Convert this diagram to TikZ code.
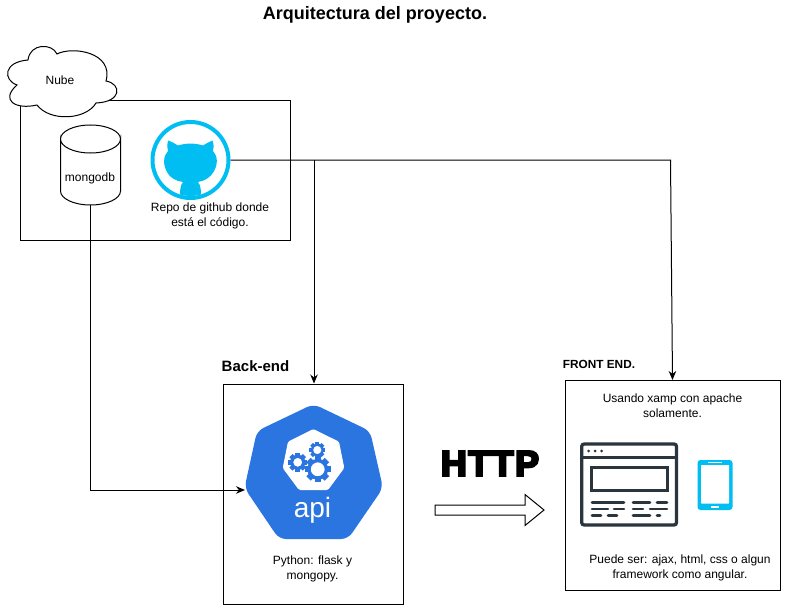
\documentclass[tikz,border=0pt]{standalone}
\usepackage{fontspec}
\setmainfont{Liberation Sans}
\newfontfamily\httpfont[LetterSpace=4]{Liberation Sans}
\usetikzlibrary{arrows.meta}
\definecolor{kblue}{HTML}{2A75E0}
\definecolor{ghblue}{HTML}{00BEF2}
\definecolor{dark}{HTML}{2A353D}
\tikzset{
  x=1pt,y=-1pt,
  box/.style={draw=black,line width=1pt,fill=white},
  lbl/.style={font=\fontsize{12}{15}\selectfont,align=center,inner sep=0pt},
  head/.style={font=\fontsize{15}{17}\selectfont\bfseries,inner sep=0pt},
  conn/.style={draw=black,line width=1pt,-{Stealth[length=9pt,width=7.5pt]}},
  plain/.style={draw=black,line width=1pt},
  wline/.style={dark,line width=2.6pt,line cap=round},
}
\newcommand{\gearshape}[4]{% x,y,radius,hole
  \foreach \a in {0,45,...,315}{
    \fill[kblue,rotate around={\a:(#1,#2)}] (#1-#3*0.24,#2-#3*0.7) rectangle (#1+#3*0.24,#2-#3);
  }
  \fill[kblue,even odd rule] (#1,#2) circle[radius=#3*0.8] (#1,#2) circle[radius=#4];
}
\begin{document}
\begin{tikzpicture}
\useasboundingbox (0,0) rectangle (791,604);
\fill[white] (0,0) rectangle (791,604);
\node[font=\fontsize{18}{20}\selectfont\bfseries,inner sep=0pt] (title) at (375,15) {Arquitectura del proyecto.};

% cloud container
\node[box,minimum width=270,minimum height=140,anchor=north west,inner sep=0pt] (nube) at (20,100) {};
\draw[plain,fill=white] (17,85)
  .. controls (3,80) and (3,62) .. (28,60)
  .. controls (30,43) and (52,43) .. (57,54)
  .. controls (72,46) and (114,52) .. (106,81)
  .. controls (122,84) and (122,102) .. (96,103)
  .. controls (86,120) and (50,122) .. (37,105)
  .. controls (15,110) and (0,100) .. (17,85) -- cycle;
\node[lbl] (nubelabel) at (60,80) {Nube};

% mongodb cylinder
\draw[plain,fill=white] (60.5,139) arc[start angle=180,end angle=0,x radius=30,y radius=14]
  -- (120.5,191) arc[start angle=0,end angle=180,x radius=30,y radius=14] -- cycle;
\draw[plain] (60.5,139) arc[start angle=180,end angle=360,x radius=30,y radius=14];
\coordinate (mongobot) at (90.5,205);
\node[lbl] (mongolbl) at (90,178) {mongodb};

% github icon
\node[draw=ghblue,line width=4pt,fill=white,circle,minimum size=76,inner sep=0pt] (gh) at (190.5,160) {};
\begin{scope}
\clip (190.5,160) circle[radius=36];
\fill[ghblue] (168,141)
  -- (168.5,140.5) .. controls (172,142) and (175,143.5) .. (178,145.5)
  .. controls (186,143) and (195,143) .. (203,145.5)
  .. controls (206,143.5) and (209,142) .. (212.5,140.5)
  .. controls (214,145) and (214,148) .. (213,151)
  .. controls (218,156) and (218,165) .. (213.5,172)
  .. controls (210,178) and (204,181) .. (198,182)
  .. controls (201,186) and (201,190) .. (201,200)
  -- (180,200) .. controls (180,190) and (180,186) .. (183,182)
  .. controls (176,181) and (170,178) .. (167,172)
  .. controls (163,165) and (163,156) .. (168,151)
  .. controls (167,148) and (167,145) .. (168,141) -- cycle;
\end{scope}
\node[lbl] (repo) at (210,215.5) {Repo de github donde\\está el código.};

% boxes
\node[head] (be) at (255.5,366) {Back-end};
\node[box,minimum width=180,minimum height=220,anchor=north west,inner sep=0pt] (back) at (223,383.5) {};
\node[box,minimum width=215,minimum height=210,anchor=north west,inner sep=0pt] (front) at (564.5,380) {};
\node[font=\fontsize{11.8}{13}\selectfont\bfseries,inner sep=0pt] (fe) at (599,364) {FRONT END.};

% connectors
\coordinate (split) at (314,160);
\coordinate (apiwest) at (245,490);
\draw[conn] (mongobot) |- (apiwest);
\draw[conn] (gh.east) -- (670.5,160) -- (front.north);
\draw[conn] (split) -- (split |- back.north);

% api icon
\fill[kblue,rounded corners=7pt] (313.5,404) -- (370,431) -- (383,488) -- (348,539) -- (279,539) -- (244.5,488) -- (257,431) -- cycle;
\fill[white,rounded corners=1.5pt] (313.3,429) -- (339,441.7) -- (344.3,468) -- (328,490) -- (299,490) -- (282.7,468) -- (288,441.7) -- cycle;
\gearshape{317.7}{469.3}{13}{7}
\gearshape{297.7}{462.3}{9.5}{4.5}
\gearshape{317.3}{450}{8}{4.2}
\node[font=\fontsize{28}{30}\selectfont,text=white,inner sep=0pt] (api) at (312.5,510) {api};
\node[lbl] (py) at (312.5,569) {Python: flask y\\mongopy.};

% HTTP
\node[font=\fontsize{36}{38}\httpfont\bfseries,inner sep=0pt] (http) at (490,463.5) {\special{pdf:code q 2 Tr 2.2 w 0 0 0 RG}HTTP\special{pdf:code Q}};
\draw[draw=black,line width=1pt,fill=white] (435,505) -- (525,505) -- (525,494.5) -- (544,510) -- (525,525.5) -- (525,515) -- (435,515) -- cycle;

% front content
\node[lbl] (usa) at (672.5,405.5) {Usando xamp con apache\\solamente.};
\draw[dark,line width=3.3pt,rounded corners=2.5pt] (581.7,444) rectangle (676.5,525);
\draw[dark,line width=3pt] (581.7,457) -- (676.5,457);
\fill[dark] (588.5,451) circle[radius=1.5] (595,451) circle[radius=1.5] (601.5,451) circle[radius=1.5];
\draw[dark,line width=3pt] (591,467) rectangle (667,490);
\foreach \xa/\xb/\y in {592/624/502.7,633/650/502.7,657/667/502.7,592/608/509,614/624/509,633/643/509,650/667/509,592/601/515.7,608/617/515.7,633/650/515.7,657/660/515.7}{
  \draw[wline] (\xa,\y) -- (\xb,\y);
}
\fill[ghblue,rounded corners=3pt] (697.5,460) rectangle (732.5,510);
\fill[white,rounded corners=0.5pt] (701,465) rectangle (729,503.5);
\fill[white] (708,461.8) rectangle (722,463.4);
\fill[white] (711,505.5) rectangle (719,507.5);
\node[lbl] (pue) at (680,567.5) {Puede ser: ajax, html, css o algun\\framework como angular.};
\end{tikzpicture}
\end{document}
